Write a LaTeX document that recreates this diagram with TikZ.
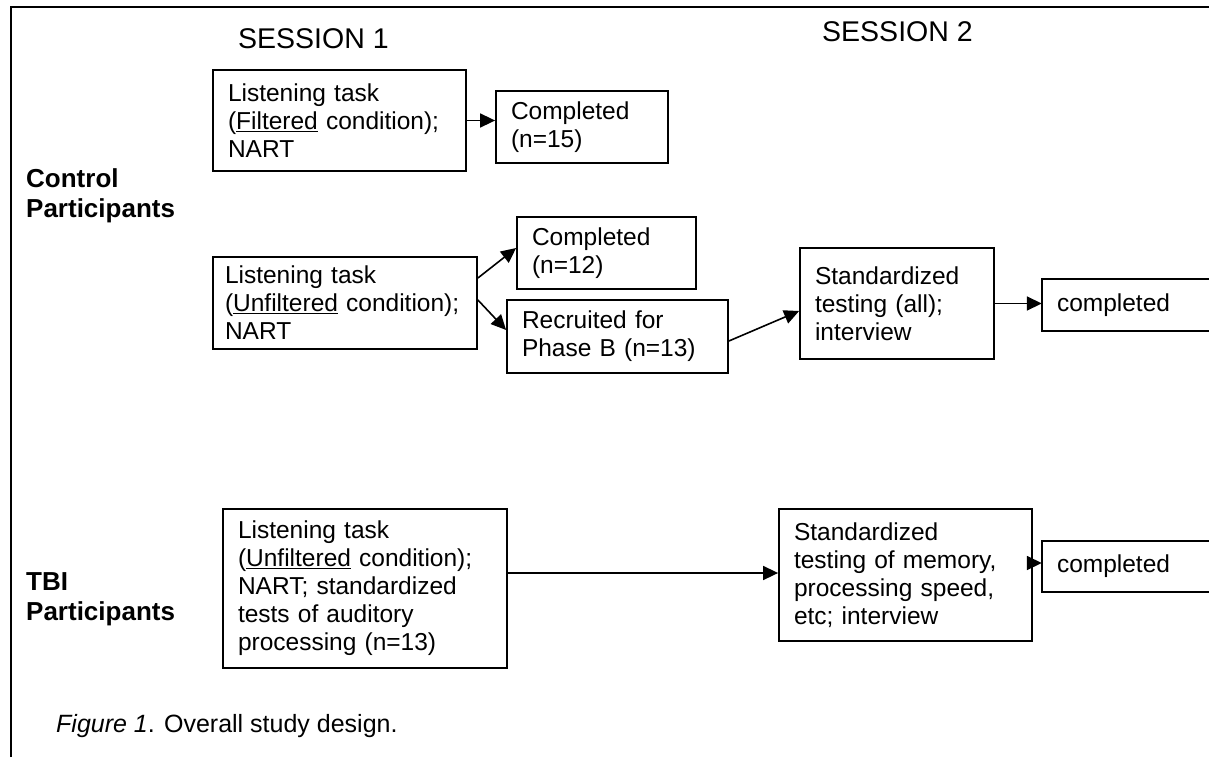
\documentclass[tikz,border=0pt]{standalone}
\usepackage{fontspec}
\setmainfont{Liberation Sans}
\usetikzlibrary{arrows.meta}
\newcommand{\bxfont}{\fontsize{24.5pt}{28pt}\selectfont}
\newcommand{\hdfont}{\fontsize{28.5pt}{32pt}\selectfont}
\newcommand{\grpfont}{\fontsize{26pt}{31pt}\selectfont\bfseries}
\newcommand{\capfont}{\fontsize{25pt}{29pt}\selectfont}
\begin{document}
\begin{tikzpicture}[x=1pt,y=-1pt,
  box/.style={draw, line width=1.8pt, rectangle, inner xsep=15pt, inner ysep=0pt, align=left, font=\bxfont},
  openbox/.style={rectangle, inner xsep=15pt, inner ysep=0pt, align=left, font=\bxfont},
  arr/.style={line width=1.6pt, -{Triangle[length=15pt,width=14pt]}},
  lbl/.style={inner sep=0pt, anchor=base west}]
\useasboundingbox (0,0) rectangle (1209,757);
\fill[white] (0,0) rectangle (1209,757);
\draw[line width=2pt] (11,757) -- (11,7) -- (1209,7);

% headings
\node[lbl, font=\hdfont] (s1) at (238,49) {SESSION 1};
\node[lbl, font=\hdfont] (s2) at (822,42) {SESSION 2};
\node[lbl, font=\grpfont] (ctl1) at (26,187) {Control};
\node[lbl, font=\grpfont] (ctl2) at (26,217) {Participants};
\node[lbl, font=\grpfont] (tbi1) at (26,590) {TBI};
\node[lbl, font=\grpfont] (tbi2) at (26,620) {Participants};
\node[lbl, font=\capfont] (cap) at (56,732) {\itshape Figure 1\upshape. Overall study design.};

% control boxes
\node[box, minimum width=253pt, minimum height=101pt, text width=223pt] (A) at (339.5,120.5)
  {Listening task\\(\underline{Filtered} condition);\\NART};
\node[box, minimum width=172pt, minimum height=72pt, text width=142pt] (B) at (582,127)
  {Completed\\(n=15)};
\node[box, minimum width=264pt, minimum height=92pt, inner xsep=12pt, text width=240pt] (C) at (345,303)
  {Listening task\\(\underline{Unfiltered} condition);\\NART};
\node[box, minimum width=179pt, minimum height=72pt, text width=149pt] (D) at (606.5,253)
  {Completed\\(n=12)};
\node[box, minimum width=221pt, minimum height=73pt, text width=191pt] (E) at (617.5,336.5)
  {Recruited for\\Phase B (n=13)};
\node[box, minimum width=194pt, minimum height=111pt, text width=164pt] (F) at (897,303.5)
  {Standardized\\testing (all);\\interview};
\node[openbox, minimum width=167pt, minimum height=52pt, text width=137pt] (G) at (1125.5,305)
  {completed};
\draw[line width=1.8pt] (G.north east) -- (G.north west) -- (G.south west) -- (G.south east);

% TBI boxes
\node[box, minimum width=284pt, minimum height=159pt, text width=254pt] (H) at (365,588.5)
  {Listening task\\(\underline{Unfiltered} condition);\\NART; standardized\\tests of auditory\\processing (n=13)};
\node[box, minimum width=253pt, minimum height=132pt, text width=223pt] (I) at (905.5,575)
  {Standardized\\testing of memory,\\processing speed,\\etc; interview};
\node[openbox, minimum width=167pt, minimum height=51pt, text width=137pt] (J) at (1125.5,566.5)
  {completed};
\draw[line width=1.8pt] (J.north east) -- (J.north west) -- (J.south west) -- (J.south east);

% connectors
\draw[arr] (A.east) -- (A.east -| B.west);
\draw[arr] ([yshift=25pt]C.east) -- ([yshift=5pt]D.west);
\draw[arr] ([yshift=3pt]C.east) -- ([yshift=6.5pt]E.west);
\draw[arr] ([yshift=-4.5pt]E.east) -- ([yshift=-7.5pt]F.west);
\draw[arr] (F.east) -- (F.east -| G.west);
\draw[arr] ([yshift=15.5pt]H.east) -- ([yshift=15.5pt]H.east -| I.west);
\draw[arr] ([yshift=12pt]I.east) -- ([yshift=12pt]I.east -| J.west);
\end{tikzpicture}
\end{document}
